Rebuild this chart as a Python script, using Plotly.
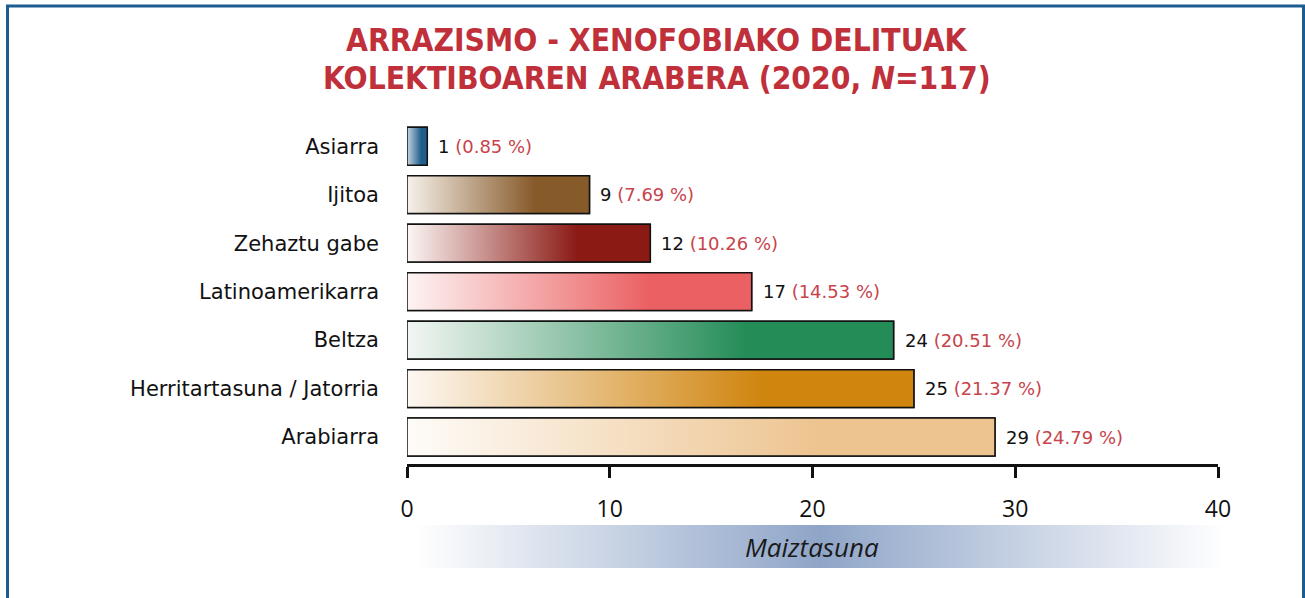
import base64
import plotly.graph_objects as go

# ---------------- data ----------------
categories = ["Arabiarra", "Herritartasuna / Jatorria", "Beltza", "Latinoamerikarra",
              "Zehaztu gabe", "Ijitoa", "Asiarra"]
counts = [29, 25, 24, 17, 12, 9, 1]
percents = [24.79, 21.37, 20.51, 14.53, 10.26, 7.69, 0.85]
bar_colors = ["#edc490", "#d0850f", "#238c57", "#eb6163", "#8b1a15", "#875a2a", "#1f5f8c"]
start_colors = ["#fefcf9", "#fdf8f3", "#f3f6f3", "#fdf4f4", "#fbf6f4", "#f6f1ea", "#c9d4e2"]
x_ticks = [0, 10, 20, 30, 40]

title_lines = ["<b>ARRAZISMO - XENOFOBIAKO DELITUAK</b>",
               "<b>KOLEKTIBOAREN ARABERA (2020, <i>N</i>=117)</b>"]
axis_title = "Maiztasuna"

FONT = "Open Sans"
BODY = "DejaVu Sans"
TITLE_FONT = "DejaVu Sans Condensed"
half = 0.39

fig = go.Figure()

idx = list(range(len(categories)))

# base bars (solid), overlaid by gradient polygons of the same size
fig.add_trace(go.Bar(
    x=counts, y=idx, orientation="h", width=2 * half,
    marker=dict(color=bar_colors, line=dict(color="#111111", width=1.5)),
    showlegend=False, hoverinfo="skip"))

for i, (v, c, s) in enumerate(zip(counts, bar_colors, start_colors)):
    fig.add_trace(go.Scatter(
        x=[0, v, v, 0, 0], y=[i - half, i - half, i + half, i + half, i - half],
        mode="lines", fill="toself",
        fillgradient=dict(type="horizontal",
                          colorscale=[[0, s], [0.7, c], [1, c]]),
        line=dict(color="#111111", width=1.5),
        showlegend=False, hoverinfo="skip"))

# value labels
for i, (v, p) in enumerate(zip(counts, percents)):
    fig.add_annotation(
        x=v, y=i, xref="x", yref="y", xanchor="left", yanchor="middle",
        xshift=9, showarrow=False,
        text=f"{v} <span style='color:#c8434b'>({p:.2f} %)</span>",
        font=dict(family=BODY, size=18, color="#111111"))

PW, PH, L, T = 811.0, 342.0, 407.0, 122.0
def px(xpix):
    return (xpix - L) / PW
def py(ypix):
    return (T + PH - ypix) / PH

# axis-title gradient band (SVG)
svg = ('<svg xmlns="http://www.w3.org/2000/svg" width="810" height="43" preserveAspectRatio="none">'
       '<defs><linearGradient id="g" x1="0" x2="1" y1="0" y2="0">'
       '<stop offset="0" stop-color="#ffffff"/>'
       '<stop offset="0.5" stop-color="#8fa5c8"/>'
       '<stop offset="1" stop-color="#ffffff"/>'
       '</linearGradient></defs>'
       '<rect width="810" height="43" fill="url(#g)"/></svg>')
src = "data:image/svg+xml;base64," + base64.b64encode(svg.encode()).decode()

fig.add_layout_image(dict(
    source=src, xref="paper", yref="paper",
    x=px(415), y=py(525), sizex=810 / PW, sizey=43 / PH,
    xanchor="left", yanchor="top", sizing="stretch", layer="below"))

fig.add_annotation(
    x=px(812), y=py(547), xref="paper", yref="paper", showarrow=False,
    xanchor="center", yanchor="middle",
    text=f"<i>{axis_title}</i>",
    font=dict(family=FONT, size=26, color="#1a1a1a"))

# title (two lines)
for line, ypix in zip(title_lines, [40, 78]):
    fig.add_annotation(
        x=px(657), y=py(ypix), xref="paper", yref="paper", showarrow=False,
        xanchor="center", yanchor="middle", align="center",
        text=line,
        font=dict(family=TITLE_FONT, size=31.5, color="#c0303a"))

# outer frame
fig.add_shape(type="rect", xref="paper", yref="paper",
              x0=px(7.5), x1=px(1303.5), y0=py(640), y1=py(6),
              line=dict(color="#1c5d91", width=3), fillcolor="rgba(0,0,0,0)")

fig.update_layout(
    width=1305, height=598,
    margin=dict(l=407, r=87, t=122, b=134),
    paper_bgcolor="white", plot_bgcolor="white",
    xaxis=dict(range=[0, 40], tickvals=x_ticks, ticktext=[str(t) for t in x_ticks],
               showgrid=False, zeroline=False, showline=True,
               linecolor="#111111", linewidth=2.5, ticks="outside", ticklen=11,
               tickwidth=2.5, tickcolor="#111111", ticklabelstandoff=12,
               tickfont=dict(family=FONT, size=23, color="#111111"), fixedrange=True),
    yaxis=dict(range=[-0.557, 6.5], tickvals=idx, ticktext=categories,
               showgrid=False, zeroline=False, showline=False, ticks="",
               ticklabelstandoff=27,
               tickfont=dict(family=BODY, size=21, color="#111111"), fixedrange=True),
    showlegend=False,
)

fig.write_html("out.html", config={"displayModeBar": False},
               post_script="document.body.style.margin='0px';")
